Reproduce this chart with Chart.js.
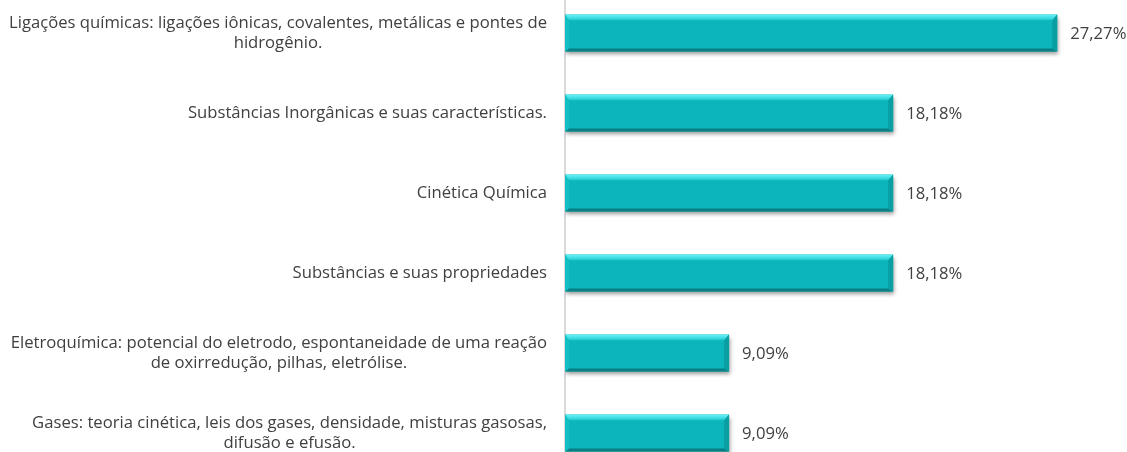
<!DOCTYPE html>
<html>
<head>
<meta charset="utf-8">
<script src="https://cdn.jsdelivr.net/npm/chart.js@4/dist/chart.umd.min.js"></script>
<style>
  html, body { margin: 0; padding: 0; background: #fff; overflow: hidden; width: 1127px; height: 452px; }
  #wrap { position: absolute; left: 0; top: -7px; width: 1127px; height: 480px; }
</style>
</head>
<body>
<div id="wrap"><canvas id="c" width="1127" height="480"></canvas></div>
<script>
const categories = [
  ['Ligações químicas: ligações iônicas, covalentes, metálicas e pontes de', 'hidrogênio.'],
  ['Substâncias Inorgânicas e suas características.'],
  ['Cinética Química'],
  ['Substâncias e suas propriedades'],
  ['Eletroquímica: potencial do eletrodo, espontaneidade de uma reação', 'de oxirredução, pilhas, eletrólise.'],
  ['Gases: teoria cinética, leis dos gases, densidade, misturas gasosas,', 'difusão e efusão.']
];
const values = [27.27, 18.18, 18.18, 18.18, 9.09, 9.09];
const valueLabels = ['27,27%', '18,18%', '18,18%', '18,18%', '9,09%', '9,09%'];

const FAMILY = '"Open Sans"';
const TEXT = '#404040';
let fontSize = null;

const shadowPlugin = {
  id: 'barShadow',
  beforeDatasetsDraw(chart) {
    const ctx = chart.ctx;
    ctx.save();
    ctx.shadowColor = 'rgba(0,0,0,0.4)';
    ctx.shadowBlur = 4;
    ctx.shadowOffsetX = 1;
    ctx.shadowOffsetY = 3;
  },
  afterDatasetsDraw(chart) {
    chart.ctx.restore();
    const ctx = chart.ctx;
    const meta = chart.getDatasetMeta(0);
    meta.data.forEach((bar) => {
      const l = Math.min(bar.base, bar.x), r = Math.max(bar.base, bar.x);
      const t = bar.y - bar.height / 2, b = bar.y + bar.height / 2;
      const bt = 6, bb = 3, br = 5, bl = 4;
      const poly = (pts, fill) => {
        ctx.beginPath();
        ctx.moveTo(pts[0][0], pts[0][1]);
        for (let i = 1; i < pts.length; i++) ctx.lineTo(pts[i][0], pts[i][1]);
        ctx.closePath();
        ctx.fillStyle = fill;
        ctx.fill();
      };
      ctx.save();
      const gt = ctx.createLinearGradient(0, t, 0, t + bt);
      gt.addColorStop(0, '#6aeef2');
      gt.addColorStop(0.5, '#44e0e6');
      gt.addColorStop(1, '#16c2c7');
      poly([[l, t], [r, t], [r - br, t + bt], [l + bl, t + bt]], gt);
      poly([[l, b], [r, b], [r - br, b - bb], [l + bl, b - bb]], '#0a7e82');
      poly([[l, t], [l + bl, t + bt], [l + bl, b - bb], [l, b]], '#12bfc3');
      poly([[r, t], [r, b], [r - br, b - bb], [r - br, t + bt]], '#0a9fa3');
      ctx.restore();
    });
  }
};

const labelsPlugin = {
  id: 'customLabels',
  afterDraw(chart) {
    const ctx = chart.ctx;
    const yScale = chart.scales.y;
    const meta = chart.getDatasetMeta(0);
    ctx.save();
    if (fontSize === null) {
      ctx.font = '16px ' + FAMILY;
      const w = ctx.measureText(categories[0][0]).width;
      fontSize = 16 * 538 / w;
    }
    ctx.font = fontSize.toFixed(2) + 'px ' + FAMILY;
    ctx.fillStyle = TEXT;
    ctx.textBaseline = 'middle';
    const rightEdge = 547;
    const lineH = 20;
    categories.forEach((lines, i) => {
      const cy = yScale.getPixelForTick(i);
      const maxW = Math.max(...lines.map(s => ctx.measureText(s).width));
      const cx = rightEdge - maxW / 2;
      ctx.textAlign = 'center';
      lines.forEach((s, j) => {
        const y = cy + (j - (lines.length - 1) / 2) * lineH;
        ctx.fillText(s, cx, y);
      });
    });
    ctx.textAlign = 'left';
    meta.data.forEach((bar, i) => {
      ctx.fillText(valueLabels[i], bar.x + 13, bar.y + 1);
    });
    ctx.restore();
  }
};

new Chart(document.getElementById('c'), {
  type: 'bar',
  data: {
    labels: categories,
    datasets: [{
      data: values,
      backgroundColor: '#0bb5b9',
      borderWidth: 0,
      barPercentage: 0.46,
      categoryPercentage: 1
    }]
  },
  options: {
    indexAxis: 'y',
    responsive: false,
    animation: false,
    devicePixelRatio: 1,
    layout: { padding: { left: 0, right: 20.5, top: 0, bottom: 0 } },
    plugins: { legend: { display: false }, tooltip: { enabled: false } },
    scales: {
      x: { min: 0, max: 30, display: false },
      y: {
        display: true,
        grid: { display: false },
        border: { display: true, color: '#d9d9d9', width: 2 },
        ticks: { display: false },
        afterFit(scale) { scale.width = 565; }
      }
    }
  },
  plugins: [shadowPlugin, labelsPlugin]
});
</script>
</body>
</html>
